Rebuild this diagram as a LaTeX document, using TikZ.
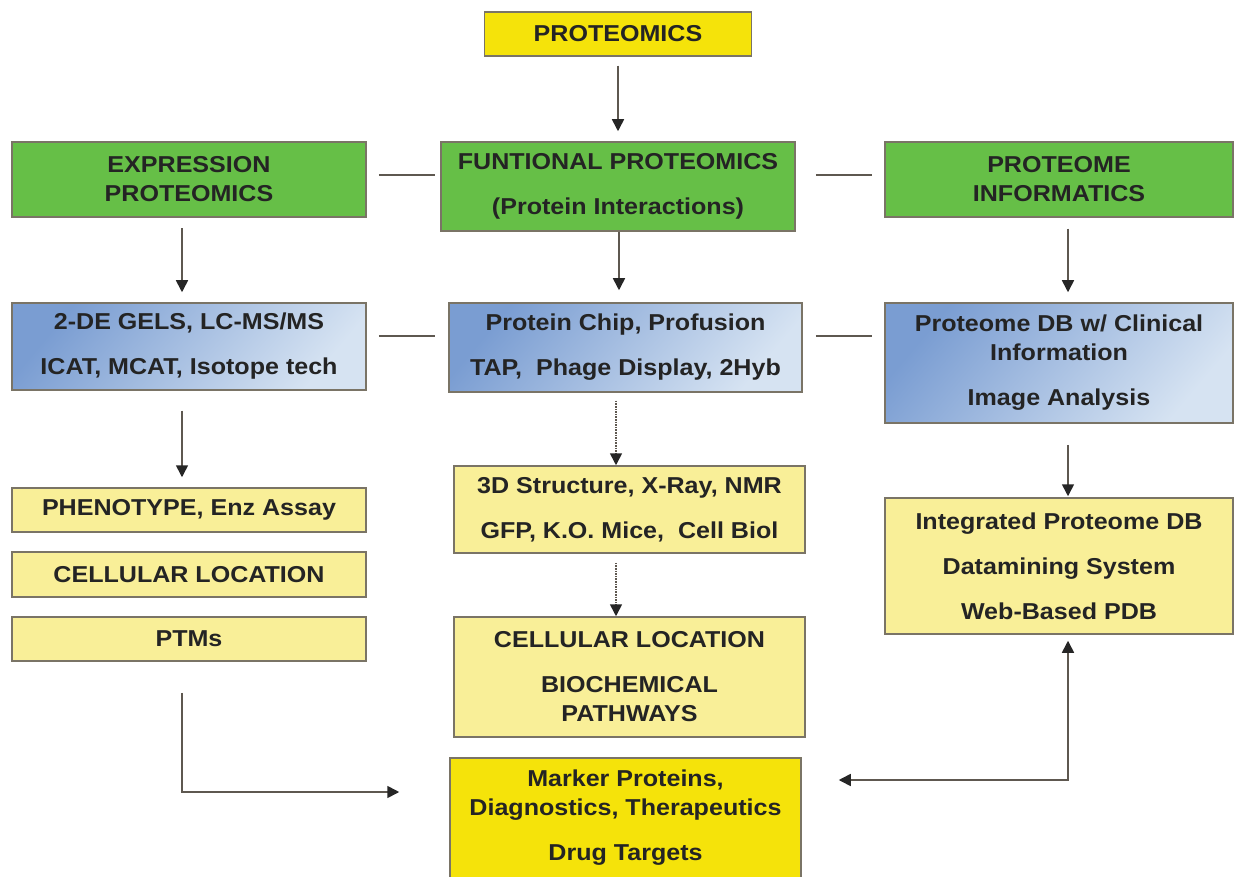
\documentclass[tikz,border=0pt]{standalone}
\usepackage{fontspec}
\setmainfont{Liberation Sans}[FakeStretch=1.09]
\usetikzlibrary{arrows.meta, calc, positioning}

\definecolor{boxgreen}{HTML}{66BF47}
\definecolor{boxyellow}{HTML}{F5E30A}
\definecolor{paleyellow}{HTML}{F9EF98}
\definecolor{bluedark}{HTML}{7A9DD2}
\definecolor{bluelight}{HTML}{D6E3F2}
\definecolor{edgegray}{HTML}{7A7466}
\definecolor{linegray}{HTML}{5E5850}
\definecolor{textgray}{HTML}{242424}

\begin{document}
\begin{tikzpicture}[x=1pt, y=-1pt, >={Triangle[length=12pt, width=12pt, color=black!85]}]
	\tikzstyle{format} = [draw=edgegray, line width=1.5pt, rectangle, inner sep=0pt, align=center, text=textgray, font=\fontsize{23}{29}\selectfont\bfseries]
	\tikzstyle{greenbox} = [format, fill=boxgreen]
	\tikzstyle{bluebox} = [format, top color=bluedark, bottom color=bluelight, shading angle=50]
	\tikzstyle{paleybox} = [format, fill=paleyellow]
	\tikzstyle{brightbox} = [format, fill=boxyellow]
	\tikzstyle{link} = [draw=linegray, line width=1.6pt]

	\useasboundingbox (0,0) rectangle (1235,877);

	\node[brightbox, minimum width=267pt, minimum height=44pt] (top) at (618,34) {PROTEOMICS};

	% expression column
	\begin{scope}[xshift=189pt]
		\node[greenbox, minimum width=354pt, minimum height=75pt] (expr) at (0,179.5) {EXPRESSION\\PROTEOMICS};
		\node[bluebox, minimum width=354pt, minimum height=87pt] (blueL) at (0,346.5) {2-DE GELS, LC-MS/MS\\[16pt]ICAT, MCAT, Isotope tech};
		\node[paleybox, minimum width=354pt, minimum height=44pt] (pheno) at (0,510) {PHENOTYPE, Enz Assay};
		\node[paleybox, minimum width=354pt, minimum height=45pt] (cellL) at (0,574.5) {CELLULAR LOCATION};
		\node[paleybox, minimum width=354pt, minimum height=44pt] (ptm) at (0,639) {PTMs};
	\end{scope}

	% functional column
	\begin{scope}[xshift=618pt]
		\node[greenbox, minimum width=354pt, minimum height=89pt] (func) at (0,186.5) {FUNTIONAL PROTEOMICS\\[16pt](Protein Interactions)};
		\node[bluebox, minimum width=353pt, minimum height=89pt] (blueC) at (7.5,347.5) {Protein Chip, Profusion\\[16pt]TAP,\ \ Phage Display, 2Hyb};
		\node[paleybox, minimum width=351pt, minimum height=87pt] (struct) at (11.5,509.5) {3D Structure, X-Ray, NMR\\[16pt]GFP, K.O. Mice,\ \ Cell Biol};
		\node[paleybox, minimum width=351pt, minimum height=120pt] (cellC) at (11.5,677) {CELLULAR LOCATION\\[16pt]BIOCHEMICAL\\PATHWAYS};
		\node[brightbox, minimum width=351pt, minimum height=120pt] (drug) at (7.5,818) {Marker Proteins,\\Diagnostics, Therapeutics\\[16pt]Drug Targets};
	\end{scope}

	% informatics column
	\begin{scope}[xshift=1059pt]
		\node[greenbox, minimum width=348pt, minimum height=75pt] (info) at (0,179.5) {PROTEOME\\INFORMATICS};
		\node[bluebox, minimum width=348pt, minimum height=120pt] (blueR) at (0,363) {Proteome DB w/ Clinical\\Information\\[16pt]Image Analysis};
		\node[paleybox, minimum width=348pt, minimum height=136pt] (integ) at (0,566) {Integrated Proteome DB\\[16pt]Datamining System\\[16pt]Web-Based PDB};
	\end{scope}

	% arrows down
	\draw[link, ->, shorten <=9pt, shorten >=10pt] (top.south) -- (top.south |- func.north);
	\draw[link, ->, shorten <=10.5pt, shorten >=10pt] ([xshift=-7pt]expr.south) -- ([xshift=-7pt]expr.south |- blueL.north);
	\draw[link, ->, shorten >=12pt] ([xshift=1pt]func.south) -- ([xshift=1pt]func.south |- blueC.north);
	\draw[link, ->, shorten <=11pt, shorten >=10pt] ([xshift=9pt]info.south) -- ([xshift=9pt]info.south |- blueR.north);
	\draw[link, ->, shorten <=20pt, shorten >=10pt] ([xshift=-7pt]blueL.south) -- ([xshift=-7pt]blueL.south |- pheno.north);
	\draw[link, ->, densely dotted, shorten <=8pt] ([xshift=-9.5pt]blueC.south) -- ([xshift=-9.5pt]blueC.south |- struct.north);
	\draw[link, ->, densely dotted, shorten <=9pt] ([xshift=-13.5pt]struct.south) -- ([xshift=-13.5pt]struct.south |- cellC.north);
	\draw[link, ->, shorten <=21pt, shorten >=1pt] ([xshift=9pt]blueR.south) -- ([xshift=9pt]blueR.south |- integ.north);

	% side links
	\draw[link, shorten <=12pt, shorten >=5pt] ([yshift=4.5pt]expr.east) -- ([yshift=4.5pt]expr.east -| func.west);
	\draw[link, shorten <=20pt, shorten >=12pt] ([yshift=11.5pt]func.east) -- ([yshift=11.5pt]func.east -| info.west);
	\draw[link, shorten <=12pt, shorten >=13pt] ([yshift=10.5pt]blueL.east) -- ([yshift=10.5pt]blueL.east -| blueC.west);
	\draw[link, shorten <=13pt, shorten >=12pt] ([yshift=11.5pt]blueC.east) -- ([yshift=11.5pt]blueC.east -| blueR.west);

	% into the targets
	\draw[link, ->, shorten <=31pt, shorten >=50pt] ([xshift=-7pt]ptm.south) |- ([yshift=26pt]drug.west);
	\draw[link, <->, shorten <=37pt, shorten >=6pt] ([yshift=38pt]drug.east) -| ([xshift=9pt]integ.south);
\end{tikzpicture}
\end{document}
